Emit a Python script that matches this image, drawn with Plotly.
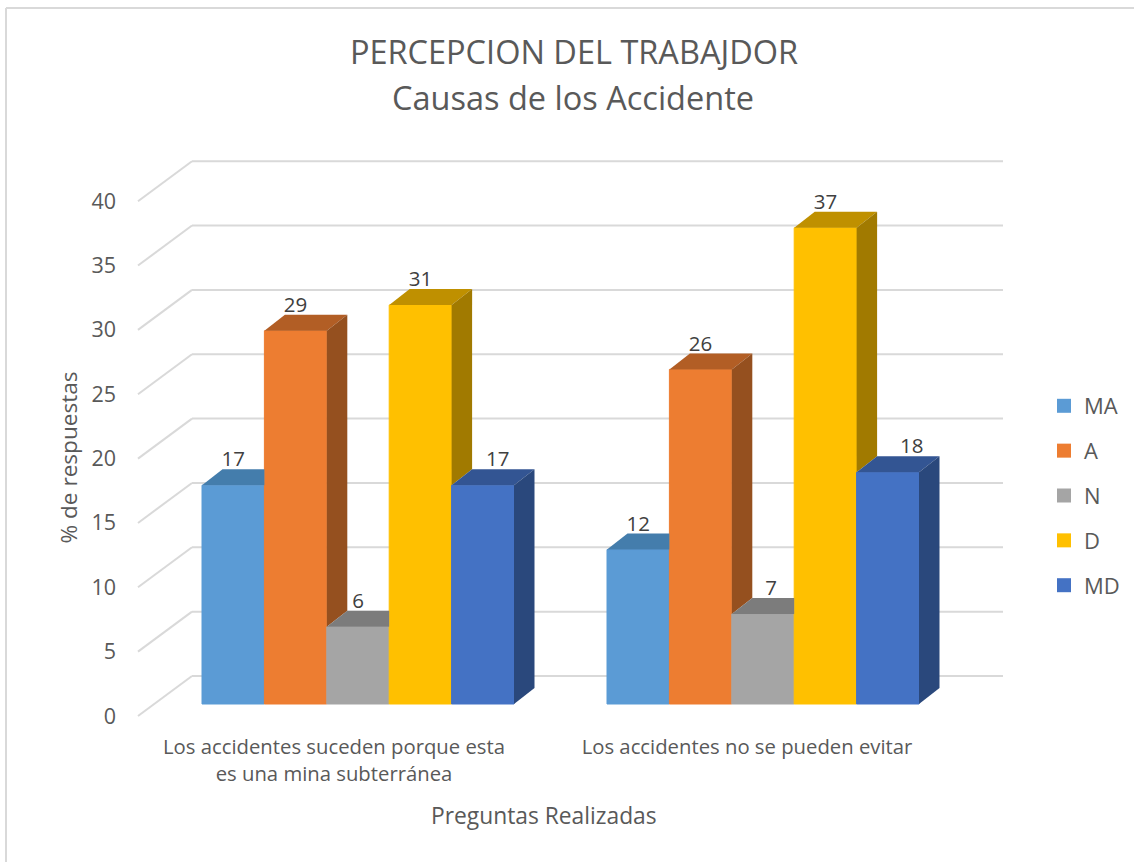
import plotly.graph_objects as go

categories = ["Los accidentes suceden porque esta<br>es una mina subterránea", "Los accidentes no se pueden evitar"]
series_names = ["MA", "A", "N", "D", "MD"]
ma = [17, 12]
a = [29, 26]
n = [6, 7]
d = [31, 37]
md = [17, 18]
series_values = [ma, a, n, d, md]
y_ticks = [0, 5, 10, 15, 20, 25, 30, 35, 40]

colors = ["#5B9BD5", "#ED7D31", "#A5A5A5", "#FFC000", "#4472C4"]
top_colors = ["#447DAC", "#B25E25", "#7C7C7C", "#BF9000", "#335593"]
side_colors = ["#39698F", "#95501F", "#686868", "#A17A00", "#2A487C"]

# pixel scale of the drawing
W, H = 1134, 862
CAT_PX, VAL_PX = 405.0, 12.87
ORIGIN_X, ORIGIN_Y = 358.0, 704.0
BAR_PX = 62.4
DEPTH_X, DEPTH_Y = 20.5, 16.0
BACK_Y, BACK_X0, BACK_X1 = 28.0, 192.0, 1003.0
TICK_SHIFT = 12.0
DIAG_X, DIAG_Y = 54.0, 40.0
LABEL_RAISE = 24.0
CAT_LABEL_PX = [334.0, 747.0]
# horizontal nudge of each data label, [cluster][series]
label_nudge = [[0, 0, 0, 0, 15], [0, 0, 8, 0, 24]]

def xd(px): return px / CAT_PX
def yd(px): return px / VAL_PX
def xpx(px): return (px - ORIGIN_X) / CAT_PX

GRID = "#D9D9D9"
TEXT = "#595959"
FONT = "Open Sans"

fig = go.Figure()

for i, name in enumerate(series_names):
    fig.add_trace(go.Bar(x=[0, 1], y=series_values[i], name=name,
                         marker=dict(color=colors[i], line=dict(color=colors[i], width=1)),
                         showlegend=False, legendgroup=name))

bw = xd(BAR_PX)
ex, ey = xd(DEPTH_X), yd(DEPTH_Y)
for c in range(2):
    for i in range(5):
        v = series_values[i][c]
        nxt = series_values[i + 1][c] if i < 4 else 0
        L = c + (i - 2.5) * bw
        R = L + bw
        if nxt > v:
            tx = [L, R, R, L + ex, L]
            ty = [v, v, v + ey, v + ey, v]
        else:
            tx = [L, R, R + ex, L + ex, L]
            ty = [v, v, v + ey, v + ey, v]
        fig.add_trace(go.Scatter(x=tx, y=ty, mode="lines", fill="toself", fillcolor=top_colors[i],
                                 line=dict(width=0), showlegend=False, hoverinfo="skip"))
        if nxt < v:
            fig.add_trace(go.Scatter(x=[R, R + ex, R + ex, R, R], y=[v, v + ey, nxt + ey, nxt, v],
                                     mode="lines", fill="toself", fillcolor=side_colors[i],
                                     line=dict(width=0), showlegend=False, hoverinfo="skip"))
        fig.add_trace(go.Scatter(x=[(L + R) / 2 + xd(label_nudge[c][i])], y=[v + yd(LABEL_RAISE)], mode="text",
                                 text=[str(v)], textposition="middle center",
                                 textfont=dict(family=FONT, size=20.5, color="#404040"),
                                 showlegend=False, hoverinfo="skip"))

# diagonal axis wall ticks
for t in y_ticks:
    fig.add_trace(go.Scatter(x=[xpx(BACK_X0), xpx(BACK_X0 - DIAG_X)],
                             y=[t + yd(BACK_Y), t + yd(BACK_Y - DIAG_Y)], mode="lines",
                             line=dict(color=GRID, width=2), showlegend=False, hoverinfo="skip"))

# legend swatches
for i, name in enumerate(series_names):
    fig.add_trace(go.Scatter(x=[None], y=[None], mode="markers", name=name, legendgroup=name,
                             marker=dict(symbol="square", size=14, color=colors[i])))

shapes = [dict(type="line", xref="x", yref="y", layer="below", x0=xpx(BACK_X0), x1=xpx(BACK_X1),
               y0=t + yd(BACK_Y), y1=t + yd(BACK_Y), line=dict(color=GRID, width=2)) for t in y_ticks]
shapes += [
    dict(type="line", xref="paper", yref="paper", x0=6 / W, x1=6 / W, y0=0, y1=1 - 8 / H, line=dict(color=GRID, width=2)),
    dict(type="line", xref="paper", yref="paper", x0=6 / W, x1=1, y0=1 - 8 / H, y1=1 - 8 / H, line=dict(color=GRID, width=2)),
]

fig.update_layout(
    width=W, height=H, autosize=False,
    margin=dict(l=0, r=0, t=0, b=0),
    paper_bgcolor="white", plot_bgcolor="white",
    barmode="group", bargap=1 - 5 * BAR_PX / CAT_PX, bargroupgap=0,
    font=dict(family=FONT, color=TEXT),
    title=dict(text="PERCEPCION DEL TRABAJDOR", x=574 / W, xanchor="center", y=1 - 53 / H, yanchor="middle",
               font=dict(family=FONT, size=32.5, color=TEXT)),
    shapes=shapes,
    annotations=[
        dict(text="Causas de los Accidente", xref="paper", yref="paper", x=573 / W, y=1 - 98 / H,
             xanchor="center", yanchor="middle", showarrow=False,
             font=dict(family=FONT, size=32.5, color=TEXT)),
        dict(text="Preguntas Realizadas", xref="paper", yref="paper", x=544 / W, y=1 - 815 / H,
             xanchor="center", yanchor="middle", showarrow=False,
             font=dict(family=FONT, size=22.8, color=TEXT)),
        dict(text="% de respuestas", xref="paper", yref="paper", x=67.5 / W, y=1 - 458 / H,
             xanchor="center", yanchor="middle", showarrow=False, textangle=-90,
             font=dict(family=FONT, size=22.6, color=TEXT)),
    ],
    legend=dict(x=1044 / W, y=1 - 385 / H, xanchor="left", yanchor="top", traceorder="grouped", tracegroupgap=13.25,
                font=dict(family=FONT, size=22, color=TEXT), bgcolor="rgba(0,0,0,0)"),
    xaxis=dict(domain=[0, 1], range=[-ORIGIN_X / CAT_PX, (W - ORIGIN_X) / CAT_PX], anchor="free", position=1 - 733 / H,
               tickmode="array", tickvals=[xpx(p) for p in CAT_LABEL_PX], ticktext=categories, ticks="", showgrid=False,
               showline=False, zeroline=False, tickfont=dict(family=FONT, size=20.3, color=TEXT), tickangle=0),
    yaxis=dict(domain=[0, 1], range=[-(H - ORIGIN_Y) / VAL_PX, ORIGIN_Y / VAL_PX], anchor="free", position=116 / W,
               tickmode="array", tickvals=[t - yd(TICK_SHIFT) for t in y_ticks], ticktext=[str(t) for t in y_ticks],
               ticks="", showgrid=False, showline=False, zeroline=False,
               tickfont=dict(family=FONT, size=21.5, color=TEXT)),
)

fig.write_html("out.html", config=dict(displayModeBar=False),
               post_script="document.body.style.margin='0';document.documentElement.style.overflow='hidden';")
